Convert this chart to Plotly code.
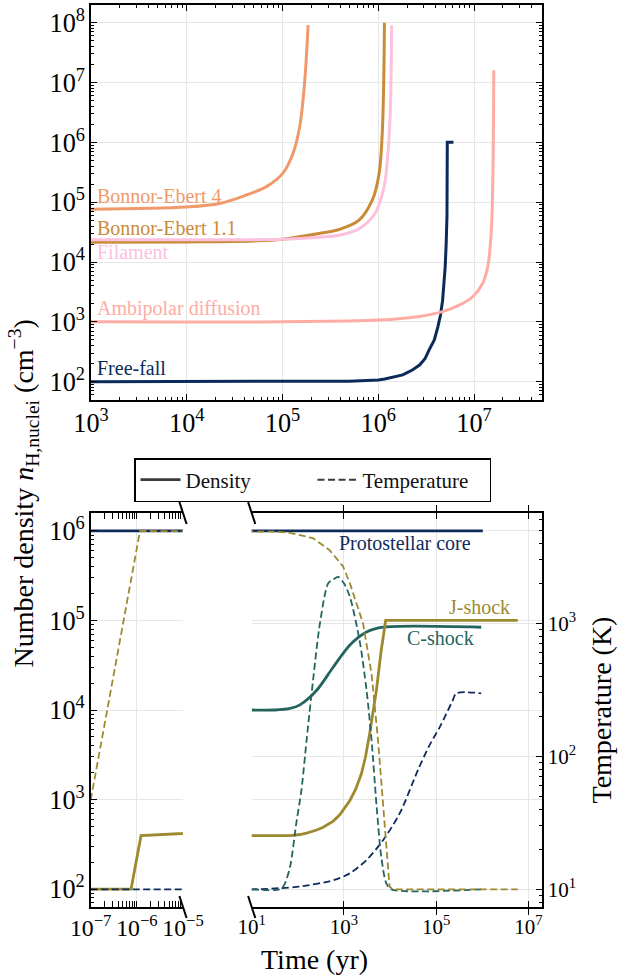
import math
import plotly.graph_objects as go

W, H = 619, 979
FONT = "Liberation Serif"

# ---------------- Top panel: collapse models (time [yr], density [cm^-3]) ----------------
ff_t = [1e3, 1e5, 5e5, 1.0e6, 1.17e6, 1.8e6, 2.27e6, 2.7e6, 3.09e6, 3.4e6, 3.85e6, 4.2e6,
        4.47e6, 4.7e6, 4.84e6, 5.0e6, 5.12e6, 5.22e6, 5.26e6, 6.1e6]
ff_n = [100, 100, 102, 107, 111, 130, 157, 190, 245, 340, 500, 830,
        1300, 2300, 3900, 8300, 2.0e4, 5.8e4, 1.0e6, 1.0e6]

amb_t = [1e3, 1e5, 1e6, 2.7e6, 4.7e6, 7.0e6, 9.7e6, 1.23e7, 1.39e7, 1.51e7, 1.57e7, 1.61e7]
amb_n = [1000, 1005, 1070, 1230, 1480, 1900, 2630, 4400, 8300, 3.0e4, 2.1e5, 1.6e7]

be11_t = [1e3, 1e4, 5e4, 1e5, 2.4e5, 3.9e5, 6.3e5, 8.7e5, 1.02e6, 1.10e6, 1.14e6, 1.16e6]
be11_n = [2.15e4, 2.17e4, 2.25e4, 2.4e4, 3.0e4, 3.5e4, 5.0e4, 1.1e5, 3.0e5, 1.4e6, 1.0e7, 1.0e8]

fil_t = [1e3, 1e4, 1e5, 2.4e5, 3.9e5, 6.3e5, 9.3e5, 1.15e6, 1.245e6, 1.33e6, 1.38e6]
fil_n = [2.35e4, 2.35e4, 2.4e4, 2.6e4, 2.8e4, 3.6e4, 6.6e4, 1.8e5, 5.1e5, 2.7e6, 9.1e7]

be4_t = [1e3, 1e4, 2.2e4, 4.2e4, 6.8e4, 1.0e5, 1.29e5, 1.51e5, 1.70e5, 1.85e5]
be4_n = [7.6e4, 8.3e4, 9.5e4, 1.32e5, 1.82e5, 3.0e5, 6.6e5, 1.8e6, 9.8e6, 9.1e7]

top_names = ["Free-fall", "Ambipolar diffusion", "Bonnor-Ebert 1.1", "Filament", "Bonnor-Ebert 4"]
top_label_y = [170, 1700, 3.7e4, 1.48e4, 1.27e5]   # label anchor densities

# ---------------- Bottom panel: physical models ----------------
# Protostellar core
ps_t = [1e-7, 1.03e6]
ps_n = [1e6, 1e6]
psT_t = [1e-7, 10, 40, 111, 589, 1350, 3090, 7080, 1.62e4, 4.07e4, 7.08e4, 1.2e5, 1.66e5, 2.29e5, 2.74e5, 9.5e5]
psT_T = [10, 10, 10.2, 10.5, 11.7, 13.2, 16.6, 23.4, 37.2, 79.4, 120, 166, 209, 263, 298, 298]

# C-shock
cs_t = [10, 31.6, 68, 111, 257, 589, 1350, 3090, 7080, 9.5e5]
cs_n = [1.0e4, 1.0e4, 1.04e4, 1.14e4, 1.66e4, 3.02e4, 5.31e4, 7.41e4, 8.4e4, 8.4e4]
csT_t = [10, 40, 50, 68, 93, 120, 155, 214, 302, 457, 590, 750, 1000, 1350, 2190, 3090, 3980, 5130, 6460, 8320, 1.07e4, 9.5e5]
csT_T = [10, 10, 10.7, 14.8, 31.6, 56, 132, 372, 1000, 2000, 2140, 2240, 2000, 1580, 741, 316, 132, 41.7, 17.6, 11.1, 10, 10]

# J-shock
js_t = [1e-7, 7.5e-7, 1.23e-6, 68, 111, 155, 257, 355, 589, 813, 1350, 1820, 2400, 2950, 3630, 5070, 6460, 8040, 5.9e6]
js_n = [100, 100, 395, 395, 407, 422, 457, 490, 575, 676, 977, 1320, 1950, 3020, 5500, 1.66e4, 4.68e4, 1.0e5, 1.0e5]
jsT_t = [1e-7, 1.17e-6, 31.6, 68, 214, 490, 955, 1350, 2600, 3980, 5500, 7080, 8610, 9770, 1.12e4, 5.9e6]
jsT_T = [46.9, 4950, 4900, 4790, 4370, 3550, 2690, 2000, 1000, 417, 132, 41.7, 17.6, 10.5, 10, 10]

bottom_labels = ["Protostellar core", "J-shock", "C-shock"]

# tick values / labels
time_r_ticks = [1e1, 1e3, 1e5, 1e7]
time_r_text = ["10<sup>1</sup>", "10<sup>3</sup>", "10<sup>5</sup>", "10<sup>7</sup>"]
temp_ticks = [1e1, 1e2, 1e3]
temp_text = ["10<sup>1</sup>", "10<sup>2</sup>", "10<sup>3</sup>"]

# ---------------- colours ----------------
NAVY = "#0f2b5b"
OLIVE = "#9d8a2f"
TEAL = "#24645f"
C_FF = "#0b2a5a"
C_AMB = "#ffaca4"
C_BE11 = "#c98b38"
C_FIL = "#fbc1de"
C_BE4 = "#f09a6b"


def px(x):
    return x / W


def py(y):
    return 1 - y / H


fig = go.Figure()

# top panel traces
top_series = [
    (ff_t, ff_n, C_FF, "linear"),
    (amb_t, amb_n, C_AMB, "spline"),
    (be11_t, be11_n, C_BE11, "spline"),
    (fil_t, fil_n, C_FIL, "spline"),
    (be4_t, be4_n, C_BE4, "spline"),
]
for t, n, c, shp in top_series:
    fig.add_trace(go.Scatter(x=t, y=n, mode="lines", xaxis="x", yaxis="y",
                             line=dict(color=c, width=3, shape=shp, smoothing=1.0),
                             showlegend=False, hoverinfo="skip"))

DASH = "7px,3.5px"
# (time, value, colour, kind, smooth in right panel)
bottom_series = [
    (ps_t, ps_n, NAVY, "n", False),
    (psT_t, psT_T, NAVY, "T", True),
    (cs_t, cs_n, TEAL, "n", True),
    (csT_t, csT_T, TEAL, "T", True),
    (js_t, js_n, OLIVE, "n", False),
    (jsT_t, jsT_T, OLIVE, "T", False),
]
for t, v, c, kind, smooth in bottom_series:
    if kind == "n":
        base = dict(color=c, width=2.8)
        axes = [("x2", "y2", False), ("x3", "y3", smooth)]
    else:
        base = dict(color=c, width=1.8, dash=DASH)
        axes = [("x2", "y5", False), ("x3", "y4", smooth)]
    for xa, ya, sm in axes:
        ln = dict(base)
        if sm:
            ln.update(shape="spline", smoothing=0.8)
        fig.add_trace(go.Scatter(x=t, y=v, mode="lines", xaxis=xa, yaxis=ya, line=ln,
                                 showlegend=False, hoverinfo="skip"))

# legend entries
fig.add_trace(go.Scatter(x=[None], y=[None], mode="lines", xaxis="x3", yaxis="y3",
                         line=dict(color="#3a3a3a", width=2.8), name="Density"))
fig.add_trace(go.Scatter(x=[None], y=[None], mode="lines", xaxis="x3", yaxis="y3",
                         line=dict(color="#3a3a3a", width=2.0, dash=DASH), name="Temperature"))

GRID = "#e6e6e6"
TICKF = dict(family=FONT, size=21, color="black")


def logaxis(**kw):
    d = dict(type="log", showline=True, linecolor="black", linewidth=1.6,
             ticks="inside", ticklen=6, tickwidth=1.3, tickcolor="black",
             dtick=1, exponentformat="power", showexponent="all",
             showgrid=True, gridcolor=GRID, gridwidth=1, zeroline=False,
             tickfont=TICKF, tickangle=0, automargin=False,
             minor=dict(ticks="inside", ticklen=3, tickwidth=1, tickcolor="black",
                        dtick="D1", showgrid=False))
    d.update(kw)
    return d


top_x = [px(91), px(541.7)]
top_y = [py(400), py(5)]
bl_x = [px(90.7), px(183)]
br_x = [px(251.7), px(541.7)]
b_y = [py(907), py(513)]

fig.update_layout(
    width=W, height=H, autosize=False,
    margin=dict(l=0, r=0, t=0, b=0, pad=0, autoexpand=False),
    paper_bgcolor="white", plot_bgcolor="white",
    font=dict(family=FONT, color="black"),
    xaxis=logaxis(domain=top_x, anchor="y", range=[3, 7.707], mirror="allticks"),
    yaxis=logaxis(domain=top_y, anchor="x", range=[1.694, 8.296], mirror="allticks"),
    xaxis2=logaxis(domain=bl_x, anchor="y2", range=[-7, -5], mirror="allticks",
                   tickfont=dict(family=FONT, size=19, color="black")),
    yaxis2=logaxis(domain=b_y, anchor="x2", range=[1.8, 6.2], mirror=False),
    yaxis5=dict(type="log", overlaying="y2", anchor="x2", range=[0.867, 3.83], visible=False),
    xaxis3=logaxis(domain=br_x, anchor="y3", range=[1, 7.29], mirror="allticks",
                   tickmode="array", tickvals=time_r_ticks, ticktext=time_r_text,
                   minor=dict(ticks="")),
    yaxis3=dict(type="log", domain=b_y, anchor="x3", range=[1.8, 6.2], showline=False,
                showticklabels=False, ticks="", showgrid=True, gridcolor=GRID, gridwidth=1,
                zeroline=False, dtick=1, automargin=False),
    yaxis4=logaxis(overlaying="y3", anchor="x3", side="right", range=[0.867, 3.83], mirror=False,
                   tickmode="array", tickvals=temp_ticks, ticktext=temp_text),
    legend=dict(orientation="h", x=px(312.5), xanchor="center", y=py(480), yanchor="middle",
                bordercolor="black", borderwidth=1.5, bgcolor="white",
                font=dict(family=FONT, size=21, color="#111111"),
                entrywidth=122, entrywidthmode="pixels", itemwidth=40),
)

# top-panel labels
top_colors = [C_FF, C_AMB, C_BE11, C_FIL, C_BE4]
for name, yv, c in zip(top_names, top_label_y, top_colors):
    fig.add_annotation(x=3.045, y=math.log10(yv), xref="x", yref="y",
                       text=name, showarrow=False, xanchor="left", yanchor="middle",
                       font=dict(family=FONT, size=20, color=c))

# bottom labels (log coordinates on right panel)
bl_pos = [(2.08e4, 7.3e5), (8.7e5, 1.41e5), (1.25e5, 6.3e4)]
bl_col = [NAVY, OLIVE, TEAL]
for name, (xv, yv), c in zip(bottom_labels, bl_pos, bl_col):
    fig.add_annotation(x=math.log10(xv), y=math.log10(yv), xref="x3", yref="y3",
                       text=name, showarrow=False, xanchor="center", yanchor="middle",
                       font=dict(family=FONT, size=20, color=c))

# axis titles
fig.add_annotation(x=px(314), y=py(977), xref="paper", yref="paper", text="Time (yr)",
                   showarrow=False, xanchor="center", yanchor="bottom",
                   font=dict(family=FONT, size=28, color="black"))
fig.add_annotation(x=px(618), y=py(710), xref="paper", yref="paper", text="Temperature (K)",
                   showarrow=False, textangle=-90, xanchor="right", yanchor="middle",
                   font=dict(family=FONT, size=28, color="black"))
fig.add_annotation(x=px(2), y=py(494), xref="paper", yref="paper",
                   text="Number density <i>n</i><sub>H,nuclei</sub> (cm<sup>−3</sup>)",
                   showarrow=False, textangle=-90, xanchor="left", yanchor="middle",
                   font=dict(family=FONT, size=28, color="black"))

# axis-break marks
for cx, cy in [(183, 513), (251.7, 513), (183, 907), (251.7, 907)]:
    fig.add_shape(type="line", xref="paper", yref="paper",
                  x0=px(cx - 3.6), y0=py(cy - 11), x1=px(cx + 3.6), y1=py(cy + 11),
                  line=dict(color="black", width=2))

fig.write_html("out.html", config={"displayModeBar": False},
               post_script="document.body.style.margin='0';")
